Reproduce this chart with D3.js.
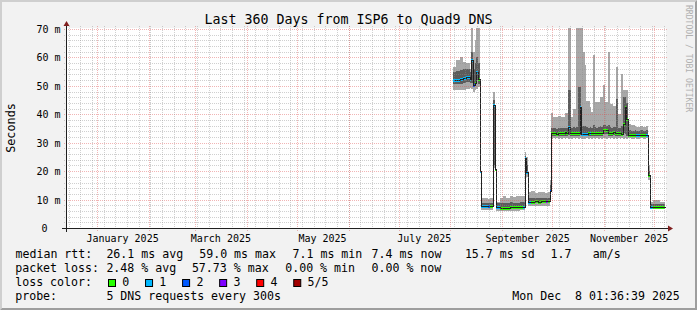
<!DOCTYPE html>
<html><head><meta charset="utf-8">
<script src="https://cdn.jsdelivr.net/npm/d3@7/dist/d3.min.js"></script>
<style>
html,body{margin:0;padding:0;background:#f2f2f2;}
svg{display:block;}
text{font-family:"DejaVu Sans Mono",monospace;fill:#000;}
</style></head>
<body><svg id="c" width="697" height="310"></svg>
<script>
// ---------------- data ----------------
const chartTitle = "Last 360 Days from ISP6 to Quad9 DNS";
const graphEnd = "2025-12-08T01:36:39";
const rangeDays = 360;
const dataEnd = "2025-12-07T21:00:00";
// each sample starts at its date (bins start at noon) and lasts until the next sample
const sampleDates = [
 "2025-08-02","2025-08-04","2025-08-06","2025-08-08","2025-08-10","2025-08-12","2025-08-13","2025-08-14","2025-08-15","2025-08-16","2025-08-17","2025-08-18",
 "2025-08-19","2025-08-21","2025-08-23","2025-08-24","2025-08-26","2025-08-27",
 "2025-08-28","2025-08-30","2025-09-01","2025-09-03","2025-09-05","2025-09-07","2025-09-09","2025-09-11","2025-09-13",
 "2025-09-14","2025-09-15",
 "2025-09-16","2025-09-18","2025-09-20","2025-09-22","2025-09-24","2025-09-26","2025-09-27","2025-09-28","2025-09-29",
 "2025-09-30","2025-10-01","2025-10-02","2025-10-03","2025-10-04","2025-10-05","2025-10-06","2025-10-07","2025-10-08","2025-10-09",
 "2025-10-10","2025-10-11","2025-10-12","2025-10-13","2025-10-14","2025-10-15","2025-10-16","2025-10-17","2025-10-18","2025-10-19",
 "2025-10-20","2025-10-21","2025-10-22","2025-10-23","2025-10-24","2025-10-25","2025-10-26","2025-10-27","2025-10-28","2025-10-29",
 "2025-10-30","2025-10-31","2025-11-01","2025-11-02","2025-11-03","2025-11-04","2025-11-05","2025-11-06","2025-11-07","2025-11-08",
 "2025-11-09","2025-11-10","2025-11-11","2025-11-12","2025-11-13","2025-11-14",
 "2025-11-15","2025-11-17","2025-11-19","2025-11-20","2025-11-22","2025-11-24","2025-11-26",
 "2025-11-27",
 "2025-11-28","2025-11-30","2025-12-02","2025-12-04","2025-12-06"
];
// sorted ping values (ms): fastest, 2nd, median, 4th, slowest
const pingMin = [
 48.4,48.4,48.5,48.5,48.8,49.2,49.0,48.0,48.5,49.0,49.5,19.5,
 6.4,6.4,6.5,6.5,21.0,20.0,
 6.1,6.1,6.1,6.1,6.1,6.1,6.1,6.2,6.2,
 22.0,18.0,
 7.8,7.8,7.9,7.8,7.9,7.8,7.8,7.9,11.0,
 31.4,31.5,31.4,31.5,31.4,31.5,31.4,31.5,31.4,31.5,
 31.4,31.5,31.4,31.5,31.4,31.5,31.4,31.5,31.3,31.4,
 31.4,31.5,31.4,31.5,31.4,31.5,31.4,31.5,31.4,31.5,
 31.4,31.5,31.5,31.4,31.5,31.4,31.5,31.4,31.5,31.4,
 31.5,31.4,31.5,31.4,31.5,31.4,
 31.5,31.4,31.5,31.4,31.5,31.4,31.5,
 17.0,
 6.6,6.6,6.6,6.6,6.6
];
const pingLow = [
 50.5,50.6,50.8,51.0,51.2,51.0,51.0,49.5,50.0,52.0,50.5,20.0,
 7.1,7.1,7.2,7.2,22.0,20.3,
 6.6,6.5,6.5,6.5,6.6,6.6,6.6,6.7,6.7,
 23.0,19.0,
 8.8,8.8,8.9,8.8,8.9,8.9,8.9,8.9,12.0,
 32.4,32.4,32.5,32.3,32.4,32.4,32.5,32.4,32.5,32.4,
 32.6,32.5,32.4,32.4,32.3,32.5,32.4,32.6,32.2,32.2,
 32.2,32.3,32.4,32.3,32.5,32.4,32.5,32.4,32.5,32.4,
 32.5,33.0,33.1,32.9,32.4,32.5,32.4,32.6,32.4,32.5,
 32.4,32.4,32.3,33.5,33.0,32.5,
 32.2,32.2,32.1,32.0,32.2,32.2,32.0,
 18.0,
 7.0,7.0,7.0,7.0,7.0
];
const medianRtt = [
 51.9,51.9,52.3,52.8,53.1,52.3,59.0,50.2,51.1,54.9,52.3,20.2,
 7.7,7.7,7.7,7.6,43.1,20.7,
 7.3,7.1,7.2,7.1,7.3,7.3,7.3,7.4,7.5,
 24.7,19.8,
 9.0,9.3,9.4,9.3,9.5,9.4,9.4,9.5,12.9,
 33.4,33.3,33.5,33.2,33.4,33.3,33.5,33.4,33.6,33.4,
 35.6,33.5,33.3,33.4,33.3,33.5,33.4,42.5,33.0,33.0,
 33.0,33.1,33.4,33.3,33.5,33.4,33.5,33.4,33.5,33.3,
 33.5,34.5,34.6,34.3,33.4,33.5,33.3,33.6,33.4,33.5,
 33.3,33.4,33.2,36.6,42.5,38.4,
 32.8,32.7,32.8,32.8,32.7,32.8,32.7,
 18.8,
 7.4,7.3,7.4,7.4,7.4
];
const pingHigh = [
 54.8,55.3,55.5,55.8,56.0,55.0,62.0,56.0,58.0,60.0,58.0,22.5,
 8.9,8.9,8.8,8.8,45.0,22.0,
 8.9,8.9,8.9,8.8,9.0,8.9,8.9,9.0,9.0,
 25.5,22.0,
 10.5,10.6,10.6,10.5,10.7,10.6,10.6,10.6,15.0,
 35.2,35.0,35.1,34.9,35.2,35.0,35.1,35.0,35.3,35.2,
 48.4,48.4,35.0,35.4,35.3,35.6,49.6,49.6,35.8,36.0,
 36.0,35.6,35.2,35.4,35.0,36.2,35.6,35.2,35.4,35.8,
 35.6,36.4,36.2,35.8,36.4,35.4,35.2,35.5,35.4,45.4,
 35.2,35.3,35.8,46.0,46.0,44.0,
 34.4,34.2,34.3,34.2,34.3,34.2,34.3,
 20.0,
 8.4,8.5,8.5,8.4,8.4
];
const pingMax = [
 56.7,59.0,60.0,58.5,58.0,56.0,70.4,62.0,66.0,70.4,70.4,30.6,
 10.5,10.5,10.3,10.4,48.0,23.4,
 9.3,10.5,11.1,10.5,11.4,10.8,11.1,11.1,11.1,
 26.6,25.0,
 12.6,12.9,12.3,12.6,12.8,12.4,12.4,12.6,17.0,
 40.5,38.9,38.9,38.9,39.5,39.5,38.9,38.9,40.4,40.4,
 70.4,70.4,39.0,41.9,41.9,70.4,70.4,70.4,70.4,62.0,
 57.3,44.8,44.8,42.5,40.7,61.0,44.3,44.3,44.3,46.0,
 46.0,50.2,44.3,44.3,62.0,43.7,43.7,43.0,43.0,56.7,
 40.1,40.1,54.3,48.4,48.4,48.4,
 36.6,36.2,35.8,35.4,36.0,35.6,35.8,
 22.0,
 9.3,9.7,9.7,9.3,9.3
];
const lossCount = [
 1,1,1,1,1,1,1,2,0,1,0,1,
 1,1,2,0,1,0,
 1,0,0,0,0,0,0,0,1,
 1,1,
 1,0,0,0,0,0,3,0,2,
 0,0,0,0,0,0,0,0,0,0,
 1,0,0,0,0,0,0,1,1,1,
 1,1,0,1,0,0,0,0,0,0,
 0,0,0,0,0,0,0,0,0,0,
 0,0,0,0,0,0,
 0,0,0,1,0,0,1,
 0,
 1,0,0,0,0
];
const lossColors = ["#26ff00","#00b8ff","#0059ff","#7e00ff","#ff0000","#a10000"];
const lossLabels = ["0","1","2","3","4","5/5"];
const yTickValues = [0,10,20,30,40,50,60,70];
const yTickLabels = ["0","10 m","20 m","30 m","40 m","50 m","60 m","70 m"];
const xLabelMonths = ["2025-01-01","2025-03-01","2025-05-01","2025-07-01","2025-09-01","2025-11-01"];
const xLabelTexts = ["January 2025","March 2025","May 2025","July 2025","September 2025","November 2025"];
const legendRow1 = ["median rtt:","26.1 ms avg","59.0 ms max","7.1 ms min","7.4 ms now","15.7 ms sd","1.7","am/s"];
const legendRow2 = ["packet loss:","2.48 % avg","57.73 % max","0.00 % min","0.00 % now"];
const legendRow4 = ["probe:","5 DNS requests every 300s"];
const stampText = "Mon Dec  8 01:36:39 2025";
const yMax = 70.35;

// ---------------- layout ----------------
const W = 697, H = 310;
const X0 = 66, XS = 600, Y0 = 228, YS = 200;
const parseT = d3.utcParse("%Y-%m-%dT%H:%M:%S");
const parseD = d3.utcParse("%Y-%m-%d");
const tEnd = parseT(graphEnd);
const tStart = new Date(tEnd.getTime() - rangeDays * 86400000);
const x = d3.scaleUtc().domain([tStart, tEnd]).range([X0, X0 + XS]);
const y = d3.scaleLinear().domain([0, yMax]).range([Y0, Y0 - YS]);
const px = t => Math.floor(x(t));
const py = v => Math.round(y(v));

const svg = d3.select("#c");
svg.append("rect").attr("width", W).attr("height", H).attr("fill", "#f2f2f2");
svg.append("path").attr("d", `M0,0H${W}L${W-2},2H2V${H-2}L0,${H}Z`).attr("fill", "#cfcfcf");
svg.append("path").attr("d", `M${W},${H}H0L2,${H-2}H${W-2}V2L${W},0Z`).attr("fill", "#9e9e9e");
svg.append("rect").attr("x", X0).attr("y", Y0 - YS).attr("width", XS).attr("height", YS).attr("fill", "#ffffff");

// samples
const starts = sampleDates.map(d => d3.utcHour.offset(parseD(d), 12));
const tDataEnd = parseT(dataEnd);
const samples = starts.map((t, i) => ({
  t0: t, t1: i < starts.length - 1 ? starts[i + 1] : tDataEnd,
  p1: pingMin[i], p2: pingLow[i], med: medianRtt[i], p4: pingHigh[i], p5: pingMax[i], loss: lossCount[i]
}));

const gData = svg.append("g").attr("shape-rendering", "crispEdges");
// outer smoke
gData.selectAll("rect.s1").data(samples).join("rect").attr("class", "s1")
  .attr("x", d => px(d.t0)).attr("width", d => px(d.t1) - px(d.t0))
  .attr("y", d => py(d.p5)).attr("height", d => Math.max(1, py(d.p1) - py(d.p5)))
  .attr("fill", "#a8a8a8");
// inner smoke
gData.selectAll("rect.s2").data(samples).join("rect").attr("class", "s2")
  .attr("x", d => px(d.t0)).attr("width", d => px(d.t1) - px(d.t0))
  .attr("y", d => py(d.p4)).attr("height", d => Math.max(1, py(d.p2) - py(d.p4)))
  .attr("fill", "#5c5c5c");
// median line (dark)
const linePts = samples.map(d => [px(d.t0) + 0.5, py(d.med) + 0.5]);
linePts.push([px(tDataEnd) + 0.5, py(samples[samples.length - 1].med) + 0.5]);
svg.append("path").attr("d", d3.line().curve(d3.curveStepAfter)(linePts))
  .attr("fill", "none").attr("stroke", "#202020").attr("stroke-width", 1).attr("shape-rendering", "crispEdges");
// loss coloured median band
gData.selectAll("rect.m").data(samples).join("rect").attr("class", "m")
  .attr("x", d => px(d.t0)).attr("width", d => px(d.t1) - px(d.t0))
  .attr("y", d => py(d.med) - 1).attr("height", 3)
  .attr("fill", d => lossColors[d.loss]);

// ---------------- grid (drawn over data, like rrdtool) ----------------
const gGrid = svg.append("g").attr("shape-rendering", "crispEdges");
const gridCol = "rgba(143,143,143,0.42)", mgridCol = "rgba(222,79,79,0.42)";
// horizontal minor every 2 ms
d3.range(2, yMax, 2).filter(v => v % 10 !== 0).forEach(v => {
  const yy = py(v) + 0.5;
  gGrid.append("line").attr("x1", X0 - 2).attr("x2", X0 + XS + 2).attr("y1", yy).attr("y2", yy)
    .attr("stroke", gridCol).attr("stroke-dasharray", "1,1");
});
yTickValues.filter(v => v > 0).forEach(v => {
  const yy = py(v) + 0.5;
  gGrid.append("line").attr("x1", X0 - 2).attr("x2", X0 + XS + 2).attr("y1", yy).attr("y2", yy)
    .attr("stroke", mgridCol).attr("stroke-dasharray", "1,1");
});
// vertical minor weekly (Sundays), major monthly
const weeks = d3.utcSunday.range(tStart, tEnd);
weeks.forEach(t => {
  const xx = px(t) + 0.5;
  gGrid.append("line").attr("x1", xx).attr("x2", xx).attr("y1", Y0 - YS - 2).attr("y2", Y0 + 2)
    .attr("stroke", gridCol).attr("stroke-dasharray", "1,1");
});
const months = d3.utcMonth.range(tStart, tEnd);
months.forEach(t => {
  const xx = px(t) + 0.5;
  gGrid.append("line").attr("x1", xx).attr("x2", xx).attr("y1", Y0 - YS - 2).attr("y2", Y0 + 3)
    .attr("stroke", mgridCol).attr("stroke-dasharray", "1,1");
});

// axes
const axisCol = "#1f1f1f", arrowCol = "#801f1f";
svg.append("line").attr("x1", X0 - 4).attr("x2", X0 + XS + 4).attr("y1", Y0 + 0.5).attr("y2", Y0 + 0.5)
  .attr("stroke", axisCol).attr("shape-rendering", "crispEdges");
svg.append("line").attr("x1", X0 + 0.5).attr("x2", X0 + 0.5).attr("y1", Y0 + 4).attr("y2", Y0 - YS - 4)
  .attr("stroke", axisCol).attr("shape-rendering", "crispEdges");
svg.append("path").attr("d", `M${X0 + XS + 2},${Y0 - 2.5}L${X0 + XS + 7},${Y0 + 0.5}L${X0 + XS + 2},${Y0 + 3.5}Z`).attr("fill", arrowCol);
svg.append("path").attr("d", `M${X0 - 2.5},${Y0 - YS - 2}L${X0 + 0.5},${Y0 - YS - 7}L${X0 + 3.5},${Y0 - YS - 2}Z`).attr("fill", arrowCol);

// y labels
yTickValues.forEach((v, i) => {
  const lab = yTickLabels[i];
  svg.append("text").attr("x", v === 0 ? X0 - 18.5 : X0 - 5.5).attr("y", py(v) + 3.8)
    .attr("text-anchor", "end").attr("font-size", 10).text(lab);
});
// x labels (centred half a month after month start)
xLabelMonths.forEach((m, i) => {
  const t = d3.utcDay.offset(parseD(m), 15);
  svg.append("text").attr("x", x(t)).attr("y", 241.6).attr("text-anchor", "middle")
    .attr("font-size", 10).text(xLabelTexts[i]);
});

// title, unit, watermark
svg.append("text").attr("x", W / 2).attr("y", 23.6).attr("text-anchor", "middle").attr("font-size", 13.3).text(chartTitle);
svg.append("text").attr("transform", `translate(14.5,${Y0 - YS / 2}) rotate(-90)`).attr("text-anchor", "middle")
  .attr("font-size", 11.8).text("Seconds");
svg.append("text").attr("transform", `translate(685.5,5) rotate(90)`).attr("font-size", 8.1)
  .style("fill", "#b0b0b0").text("RRDTOOL / TOBI OETIKER");

// legend
const lf = 11.6;
const row1X = [15.5, 106.4, 199.2, 292.5, 371.6, 464.9, 550.6, 592.8];
legendRow1.forEach((s, i) => svg.append("text").attr("x", row1X[i]).attr("y", 258.3).attr("font-size", lf).text(s));
const row2X = [15.2, 106.4, 191.9, 285.2, 371.5];
legendRow2.forEach((s, i) => svg.append("text").attr("x", row2X[i]).attr("y", 272.3).attr("font-size", lf).text(s));
svg.append("text").attr("x", 15.2).attr("y", 286.3).attr("font-size", lf).text("loss color:");
lossLabels.forEach((s, i) => {
  const bx = 108 + 37.05 * i;
  svg.append("rect").attr("x", bx + 0.5).attr("y", 279.5).attr("width", 7).attr("height", 7)
    .attr("fill", lossColors[i]).attr("stroke", "#000").attr("stroke-width", 1);
  svg.append("text").attr("x", bx + 14.3).attr("y", 286.3).attr("font-size", lf).text(s);
});
const row4X = [15.2, 106.4];
legendRow4.forEach((s, i) => svg.append("text").attr("x", row4X[i]).attr("y", 300.3).attr("font-size", lf).text(s));
svg.append("text").attr("x", 512.3).attr("y", 300.3).attr("font-size", lf).style("white-space", "pre").text(stampText);
</script></body></html>
